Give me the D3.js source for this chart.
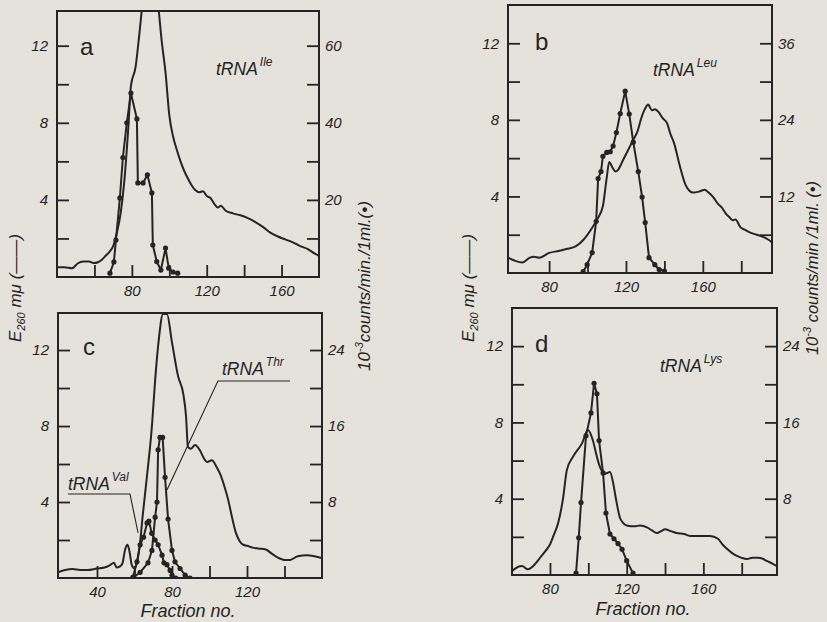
<!DOCTYPE html>
<html><head><meta charset="utf-8">
<script src="https://cdn.jsdelivr.net/npm/d3@7"></script>
<style>body{margin:0;background:#e4e2da}</style></head>
<body><svg id="c" width="827" height="622"></svg>
<script>
// ---------- DATA ----------
// Panel a : tRNA Ile  (absorbance E260, left axis; radioactivity, right axis = 10^-3 counts/min/1ml)
const fracA = [40,44,48,51,54,57,60,64,66,68,70,72,74,76,78,79.5,82,84,86,88,90,92,94,96,98,100,102,104,106,108,110,112,114,116,118,120,122,124,126,127.5,130,134,138,142,146,150,154,158,162,166,170,174,178,180];
const absA  = [0.5,0.5,0.45,0.7,0.8,0.8,0.72,0.9,1.1,1.3,1.6,2.3,3.3,5.0,7.6,9.9,10.9,12.6,14.5,16,16.5,16,14.2,12.2,10.6,8.4,7.3,6.6,6.0,5.5,5.1,4.75,4.5,4.4,4.45,4.2,4.1,3.8,3.6,3.7,3.45,3.3,3.2,3.05,2.85,2.6,2.3,2.1,1.95,1.8,1.6,1.45,1.2,1.1];
const fracAc = [68.3,70.4,71.5,73.6,75.2,77.3,79.5,82.7,83.2,86,88.3,90.7,91.2,93.3,95.5,98,99.7,102,104.5];
const cpmA   = [1,3.9,9.6,20.5,31,40,47.7,41,24.4,24.4,26.5,21.8,8.3,4,1.8,7.5,2.3,1.3,1];

// Panel b : tRNA Leu
const fracB = [58.6,62,66,70,72,75,80,85,89,94,98,102,105,108,110,111.3,113,114.5,116,118,120,122,124,126,128,130,131.5,133.5,135,137,139,141.5,143,145,148,151,153,155,158,161,163,165.5,168,170,172,174,175.5,177,179.5,182,185,188,191,194,196];
const absB  = [0.8,0.65,0.55,0.8,0.85,0.8,1.05,1.15,1.25,1.4,1.75,2.3,2.8,3.5,5.0,5.8,5.5,5.3,5.4,5.8,6.2,6.6,7.0,7.4,8.1,8.6,8.8,8.5,8.55,8.4,8.1,7.8,7.3,6.8,5.6,4.6,4.3,4.2,4.25,4.35,4.2,3.95,3.6,3.4,3.1,2.9,2.75,2.8,2.4,2.25,2.1,2.0,1.9,1.75,1.6];
const fracBc = [97.7,99.8,102.4,104.5,105.5,107,108,110,111.8,113.3,115,117,119.6,121.7,123.8,126.4,128.4,130,132,135,137.3,140];
const cpmB   = [0.2,1.3,3.2,8.1,14.8,15.9,18.3,18.9,19,19.9,22,25,28.5,24.9,20.5,15.9,11.9,7.9,2.4,1.3,0.55,0.3];

// Panel c : tRNA Val and tRNA Thr
const fracC = [19.2,23,27,31,35,40,44,47,49,50.5,52,53.5,55,56.3,57.5,58.5,60,61.5,63,64.5,66.7,69.3,71,73,75.2,77.3,80,83.3,86,87.5,88.5,90,92.3,95,97,98.7,101.3,104,106,108,110,112,114,116,118,120,123,126,130,133,136,140,143,147,152,156,160];
const absC  = [0.3,0.42,0.47,0.42,0.42,0.5,0.55,0.68,0.8,0.55,0.6,0.75,1.5,1.75,1.3,0.7,0.5,0.9,1.9,3.4,5.4,8.0,10.4,12.6,13.9,13.9,12.4,10.6,9.7,8.5,6.9,6.8,7.0,6.7,6.3,6.1,6.2,5.8,5.4,4.8,4.1,3.2,2.4,1.95,1.75,1.7,1.6,1.55,1.5,1.3,1.1,0.95,0.95,1.15,1.2,1.15,1.05];
const fracCv = [59.2,61.3,63,64.8,66.7,67.7,69.2,71,72.6,74.7,75.7,77.3,79,80,82];
const cpmCv  = [0.1,1.7,3.5,4.3,5.8,6,4.7,4.0,3.5,2.4,1.6,1.4,0.8,0.3,0];
const fracCt = [59.2,63,67.2,69.3,71,72,72.6,73.6,75,76.3,77.9,80,81.6,84.3,87,89.6];
const cpmCt  = [0,0.6,1.6,2.9,6.4,8,13.5,14.8,14.8,10.6,6.2,2.9,1.7,1,0.3,0];

// Panel d : tRNA Lys
const fracD = [60.2,62,65.4,68.5,71,74.8,78,80,82,84.2,86.8,88.8,92,96.7,99.8,102.4,104,105.6,108.7,111.3,113,114.4,116.5,118,120,124,127,130.6,133,135.8,138,140,143,146,150,153,158,163.5,167.6,170,172,175,177.5,180,182.8,185.5,188.5,191,193,196,198.4];
const absD  = [0.2,0.35,0.47,0.3,0.45,0.9,1.3,1.6,2.1,2.7,4.0,5.5,6.2,6.9,7.6,7.05,6.4,5.8,5.3,5.4,4.8,4.0,3.0,2.75,2.6,2.55,2.6,2.5,2.35,2.2,2.3,2.4,2.3,2.2,2.15,2.05,2.05,2.05,1.9,1.6,1.4,1.15,1.0,0.9,0.84,0.9,0.9,0.85,0.74,0.6,0.47];
const fracDc = [93.6,95,96.2,98.8,101.4,103,104.5,105.6,107.7,109.2,111.3,113.4,115.5,117.6,120,123.3];
const cpmD   = [0.2,3.9,7.6,14.6,17,20.1,19,14.1,10.7,6.5,4.3,3.8,3.3,2.7,1.5,0.2];

// ticks
const leftTicks = [2,4,6,8,10,12];
const leftLabels = [4,8,12];
const xTicksA = [60,80,100,120,140,160], xLabelsA = [80,120,160];
const xTicksB = [80,100,120,140,160,180], xLabelsB = [80,120,160];
const xTicksC = [40,60,80,100,120,140], xLabelsC = [40,80,120];
const xTicksD = [80,100,120,140,160,180], xLabelsD = [80,120,160];
const rTicksA = [10,20,30,40,50,60], rLabelsA = [20,40,60];
const rTicksB = [6,12,18,24,30,36], rLabelsB = [12,24,36];
const rTicksC = [4,8,12,16,20,24], rLabelsC = [8,16,24];
const rTicksD = [4,8,12,16,20,24], rLabelsD = [8,16,24];

// annotation leader lines for panel c (data units)
const thrLeader = [[142.9,10.37],[104.5,10.37],[77.3,4.63]];
const valLeader = [[24.5,4.42],[57.6,4.42],[61.9,2.37]];

// ---------- DRAW ----------
const INK = '#242424';
const BG = '#e4e2da';
const FONT = '"Liberation Sans", Arial, sans-serif';
const svg = d3.select('#c');
svg.append('rect').attr('width',827).attr('height',622).attr('fill',BG);

const panels = [
  {id:'a', box:[57,11,319,277], xDom:[40,180], yMax:13.8, rf:5,
   abs:[fracA,absA], cpm:[[fracAc,cpmA]], xt:xTicksA, xl:xLabelsA, rt:rTicksA, rl:rLabelsA,
   letter:[80,55], name:'Ile', namePos:[216,75]},
  {id:'b', box:[508,5,772,273], xDom:[58.6,196], yMax:14.0, rf:3,
   abs:[fracB,absB], cpm:[[fracBc,cpmB]], xt:xTicksB, xl:xLabelsB, rt:rTicksB, rl:rLabelsB,
   letter:[535,50], name:'Leu', namePos:[653,76]},
  {id:'c', box:[58,313,322,578], xDom:[19.2,160], yMax:13.95, rf:2,
   abs:[fracC,absC], cpm:[[fracCv,cpmCv],[fracCt,cpmCt]], xt:xTicksC, xl:xLabelsC, rt:rTicksC, rl:rLabelsC,
   letter:[83,355], name:null},
  {id:'d', box:[512,308,777,575], xDom:[60.2,198.4], yMax:14.0, rf:2,
   abs:[fracD,absD], cpm:[[fracDc,cpmD]], xt:xTicksD, xl:xLabelsD, rt:rTicksD, rl:rLabelsD,
   letter:[535,352], name:'Lys', namePos:[660,372]}
];

const defs = svg.append('defs');

function styleAxis(g){
  g.select('.domain').remove();
  g.selectAll('.tick line').attr('stroke',INK).attr('stroke-width',1.8);
  g.selectAll('.tick text').attr('fill',INK).attr('font-family',FONT)
    .attr('font-style','italic').attr('font-size',15);
}

panels.forEach(p => {
  const [x0,y0,x1,y1] = p.box;
  const x = d3.scaleLinear().domain(p.xDom).range([x0,x1]);
  const yL = d3.scaleLinear().domain([0,p.yMax]).range([y1,y0]);
  const yR = d3.scaleLinear().domain([0,p.yMax*p.rf]).range([y1,y0]);
  const g = svg.append('g');

  defs.append('clipPath').attr('id','clip'+p.id)
    .append('rect').attr('x',x0).attr('y',y0).attr('width',x1-x0).attr('height',y1-y0);

  // axes (ticks inward)
  g.append('g').attr('transform',`translate(0,${y1})`)
    .call(d3.axisBottom(x).tickValues(p.xt).tickSize(-12).tickPadding(8)
      .tickFormat(d => p.xl.includes(d) ? d : '')).call(styleAxis);
  g.append('g').attr('transform',`translate(${x0},0)`)
    .call(d3.axisLeft(yL).tickValues(leftTicks).tickSize(-12).tickPadding(9)
      .tickFormat(d => leftLabels.includes(d) ? d : '')).call(styleAxis);
  g.append('g').attr('transform',`translate(${x1},0)`)
    .call(d3.axisRight(yR).tickValues(p.rt).tickSize(-12).tickPadding(6)
      .tickFormat(d => p.rl.includes(d) ? d : '')).call(styleAxis);

  const plot = g.append('g').attr('clip-path',`url(#clip${p.id})`);

  // absorbance line
  const absPts = p.abs[0].map((f,i)=>[f,p.abs[1][i]]);
  plot.append('path').datum(absPts)
    .attr('d', d3.line().x(d=>x(d[0])).y(d=>yL(d[1])).curve(d3.curveMonotoneX))
    .attr('fill','none').attr('stroke',INK).attr('stroke-width',2).attr('stroke-linejoin','round');

  // radioactivity lines with dots
  p.cpm.forEach(([fr,vals]) => {
    const pts = fr.map((f,i)=>[f,vals[i]]);
    plot.append('path').datum(pts)
      .attr('d', d3.line().x(d=>x(d[0])).y(d=>yR(d[1])))
      .attr('fill','none').attr('stroke',INK).attr('stroke-width',2).attr('stroke-linejoin','round');
    plot.selectAll(null).data(pts).enter().append('circle')
      .attr('cx',d=>x(d[0])).attr('cy',d=>yR(d[1])).attr('r',2.6).attr('fill',INK);
  });

  // frame
  g.append('rect').attr('x',x0).attr('y',y0).attr('width',x1-x0).attr('height',y1-y0)
    .attr('fill','none').attr('stroke',INK).attr('stroke-width',2);

  // panel letter
  g.append('text').attr('x',p.letter[0]).attr('y',p.letter[1]).text(p.id)
    .attr('font-family',FONT).attr('font-size',24).attr('fill',INK);

  // tRNA name
  if (p.name) {
    const t = g.append('text').attr('x',p.namePos[0]).attr('y',p.namePos[1])
      .attr('font-family',FONT).attr('font-style','italic').attr('fill',INK);
    t.append('tspan').text('tRNA').attr('font-size',17.5);
    t.append('tspan').text(p.name).attr('font-size',12).attr('dy',-9).attr('dx',2);
  }

  if (p.id === 'c') {
    const ln = d3.line().x(d=>x(d[0])).y(d=>yL(d[1]));
    [thrLeader,valLeader].forEach(L => {
      g.append('path').datum(L).attr('d',ln).attr('fill','none')
        .attr('stroke',INK).attr('stroke-width',1.1);
    });
    const t1 = g.append('text').attr('x',222).attr('y',375)
      .attr('font-family',FONT).attr('font-style','italic').attr('fill',INK);
    t1.append('tspan').text('tRNA').attr('font-size',17.5);
    t1.append('tspan').text('Thr').attr('font-size',12).attr('dy',-9).attr('dx',2);
    const t2 = g.append('text').attr('x',68).attr('y',490)
      .attr('font-family',FONT).attr('font-style','italic').attr('fill',INK);
    t2.append('tspan').text('tRNA').attr('font-size',17.5);
    t2.append('tspan').text('Val').attr('font-size',12).attr('dy',-9).attr('dx',2);
  }
});

// axis titles
function leftTitle(cx, cy){
  const t = svg.append('text').attr('transform',`translate(${cx},${cy}) rotate(-90)`)
    .attr('text-anchor','middle').attr('font-family',FONT).attr('font-style','italic')
    .attr('font-size',17).attr('fill',INK);
  t.append('tspan').text('E');
  t.append('tspan').text('260').attr('font-size',11).attr('dy',4);
  t.append('tspan').text(' mμ (——)').attr('dy',-4);
}
function rightTitle(cx, cy, txt, fs){
  const t = svg.append('text').attr('transform',`translate(${cx},${cy}) rotate(-90)`)
    .attr('text-anchor','middle').attr('font-family',FONT).attr('font-style','italic')
    .attr('font-size',fs).attr('fill',INK);
  t.append('tspan').text('10');
  t.append('tspan').text('-3').attr('font-size',11).attr('dy',-7);
  t.append('tspan').text(txt).attr('dy',7);
}
leftTitle(21, 288);
leftTitle(474, 288);
rightTitle(370, 286, 'counts/min./1ml.(•)', 17);
rightTitle(818, 268, ' counts/min /1ml. (•)', 16.5);

svg.append('text').attr('x',188).attr('y',617).attr('text-anchor','middle')
  .attr('font-family',FONT).attr('font-style','italic').attr('font-size',18).attr('fill',INK)
  .text('Fraction no.');
svg.append('text').attr('x',643).attr('y',615).attr('text-anchor','middle')
  .attr('font-family',FONT).attr('font-style','italic').attr('font-size',18).attr('fill',INK)
  .text('Fraction no.');
</script>
</body></html>
